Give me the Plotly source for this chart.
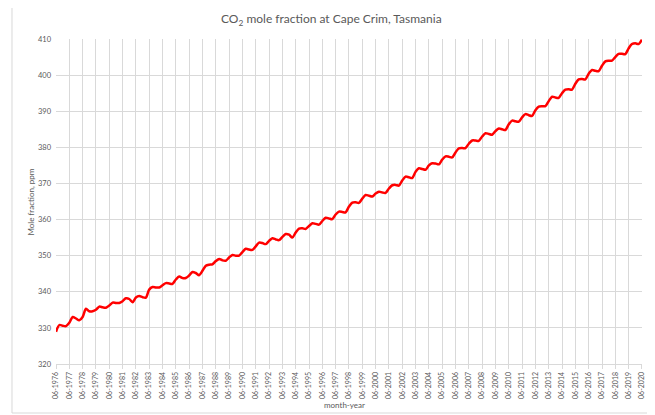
import pandas as pd
import plotly.graph_objects as go

# Quarterly readings (Jun, Sep, Dec, Mar of next year), ppm
co2 = [
    328.9, 330.8, 330.6, 330.5,   # 1976
    331.4, 333.0, 332.6, 332.1,   # 1977
    333.0, 335.3, 334.6, 334.6,   # 1978
    335.0, 335.9, 335.7, 335.6,   # 1979
    336.2, 337.0, 336.9, 336.9,   # 1980
    337.4, 338.2, 338.0, 337.1,   # 1981
    338.4, 338.8, 338.5, 338.4,   # 1982
    340.6, 341.3, 341.2, 341.2,   # 1983
    341.8, 342.4, 342.3, 342.2,   # 1984
    343.4, 344.2, 343.8, 343.8,   # 1985
    344.5, 345.5, 345.2, 344.6,   # 1986
    345.8, 347.2, 347.5, 347.6,   # 1987
    348.5, 349.1, 348.7, 348.6,   # 1988
    349.5, 350.2, 350.0, 350.0,   # 1989
    351.0, 351.9, 351.7, 351.6,   # 1990
    352.6, 353.6, 353.5, 353.2,   # 1991
    354.1, 354.8, 354.5, 354.3,   # 1992
    355.2, 356.0, 355.8, 355.0,   # 1993
    356.4, 357.5, 357.6, 357.4,   # 1994
    358.2, 359.0, 358.8, 358.6,   # 1995
    359.6, 360.5, 360.3, 360.1,   # 1996
    361.4, 362.2, 362.1, 362.0,   # 1997
    363.6, 364.7, 364.8, 364.6,   # 1998
    365.8, 366.8, 366.6, 366.4,   # 1999
    367.2, 367.7, 367.5, 367.4,   # 2000
    368.6, 369.5, 369.6, 369.4,   # 2001
    370.8, 371.9, 371.7, 371.5,   # 2002
    373.2, 374.2, 374.0, 373.8,   # 2003
    375.0, 375.6, 375.5, 375.3,   # 2004
    376.6, 377.5, 377.4, 377.2,   # 2005
    378.6, 379.7, 379.8, 379.8,   # 2006
    381.0, 381.9, 381.9, 381.8,   # 2007
    383.0, 383.9, 383.7, 383.5,   # 2008
    384.5, 385.2, 385.0, 384.8,   # 2009
    386.4, 387.4, 387.2, 387.1,   # 2010
    388.3, 389.2, 388.9, 388.7,   # 2011
    390.3, 391.3, 391.4, 391.4,   # 2012
    392.8, 394.0, 393.8, 393.7,   # 2013
    395.0, 396.0, 396.1, 396.0,   # 2014
    397.6, 398.8, 398.9, 398.8,   # 2015
    400.4, 401.4, 401.2, 401.1,   # 2016
    402.6, 403.8, 404.0, 404.0,   # 2017
    405.0, 405.9, 405.9, 405.8,   # 2018
    407.4, 408.6, 408.8, 408.6,   # 2019
    409.8,                        # 2020
]
months = pd.date_range("1976-06-01", periods=len(co2), freq="3MS")

title_text = "CO<sub>2</sub> mole fraction at Cape Crim, Tasmania"
y_title = "Mole fraction, ppm"
x_title = "month-year"
y_ticks = [320, 330, 340, 350, 360, 370, 380, 390, 400, 410]

grey = "#595959"
grid = "#d9d9d9"
font = "Lato"

fig = go.Figure()
fig.add_trace(go.Scatter(
    x=months, y=co2, mode="lines",
    line=dict(color="#ff0000", width=2.5, shape="spline", smoothing=0.8),
    hoverinfo="skip", showlegend=False,
))

# page body has an 8px margin, so the figure is 8px smaller than the window
fig.update_layout(
    width=647, height=407,
    margin=dict(l=48, r=13, t=31, b=51, autoexpand=False),
    paper_bgcolor="white", plot_bgcolor="white",
    font=dict(family=font, color=grey),
    xaxis=dict(
        type="date", automargin=False,
        range=["1976-06-01", "2020-06-02"],
        tick0="1976-06-01", dtick="M12", tickformat="%m-%Y",
        tickangle=-90,
        tickfont=dict(size=7, color=grey, family=font),
        showgrid=True, gridcolor=grid, gridwidth=1.4,
        ticks="outside", ticklen=4, tickcolor=grid, tickwidth=1.4,
        showline=True, linecolor=grid, linewidth=1.4,
        zeroline=False,
    ),
    yaxis=dict(
        automargin=False,
        range=[320, 410],
        tickvals=y_ticks,
        tickfont=dict(size=7.5, color=grey, family=font),
        showgrid=True, gridcolor=grid, gridwidth=1.4,
        ticks="", showline=False, zeroline=False,
        ticklabelstandoff=4,
    ),
    shapes=[dict(
        type="rect", xref="paper", yref="paper",
        x0=-0.0751, x1=1.0154, y0=-0.1508, y1=1.1015,
        line=dict(color=grid, width=1), layer="below",
    )],
    annotations=[
        dict(text=title_text, xref="paper", yref="paper", x=0.470, y=1.0615,
             showarrow=False, font=dict(size=12, color=grey, family=font),
             xanchor="center", yanchor="middle"),
        dict(text=y_title, xref="paper", yref="paper", x=-0.0427, y=0.5,
             textangle=-90, showarrow=False,
             font=dict(size=8, color=grey, family=font),
             xanchor="center", yanchor="middle"),
        dict(text=x_title, xref="paper", yref="paper", x=0.4915, y=-0.126,
             showarrow=False, font=dict(size=8, color=grey, family=font),
             xanchor="center", yanchor="middle"),
    ],
)

fig.write_html("out.html")
